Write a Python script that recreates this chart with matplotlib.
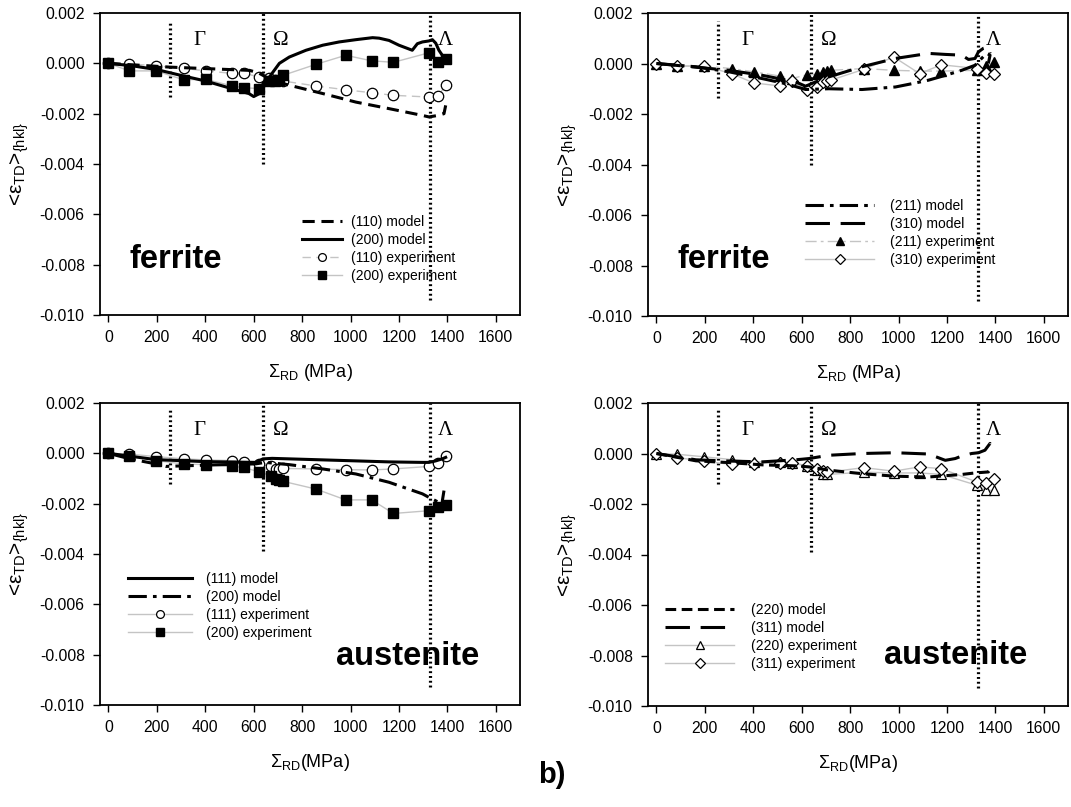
import matplotlib
matplotlib.use("Agg")
import matplotlib.pyplot as plt

plt.rcParams['font.family'] = ['Liberation Sans', 'DejaVu Sans']
plt.rcParams['mathtext.fontset'] = 'custom'
plt.rcParams['mathtext.rm'] = 'Liberation Sans'
plt.rcParams['mathtext.it'] = 'Liberation Sans:italic'
plt.rcParams['mathtext.bf'] = 'Liberation Sans:bold'
plt.rcParams['axes.unicode_minus'] = False

W, H = 1071, 807

# ---------------- data ----------------
# Ferrite (top-left)
fe110_model_x = [0, 253, 583, 620, 676, 747, 885, 1022, 1159, 1297, 1324, 1361, 1386, 1393]
fe110_model_y = [0, -0.00015, -0.00028, -0.00038, -0.00068, -0.00087, -0.0012, -0.00154, -0.0018,
                 -0.00207, -0.00213, -0.00207, -0.0020, -0.00167]
fe200_model_x = [0, 100, 200, 300, 400, 500, 580, 600, 624, 638, 665, 706, 747, 816, 885, 953, 1022,
                 1091, 1118, 1159, 1200, 1255, 1276, 1297, 1324, 1338, 1352, 1365, 1379]
fe200_model_y = [0, -0.0001, -0.00025, -0.00048, -0.0007, -0.00098, -0.0012, -0.00132, -0.0012,
                 -0.00081, -0.00054, 0.0, 0.00025, 0.00052, 0.00072, 0.00085, 0.00094, 0.00102,
                 0.0010, 0.00091, 0.00072, 0.00052, 0.00078, 0.00085, 0.00089, 0.00094, 0.0008,
                 0.00052, 0.00032]
fe_exp_x = [0, 86, 196, 310, 402, 512, 558, 620, 662, 686, 706, 720, 857, 980, 1087, 1177, 1324, 1361, 1395]
fe110_exp_y = [0, -0.00002, -0.0001, -0.0002, -0.0003, -0.0004, -0.0004, -0.00053, -0.0006, -0.00065,
               -0.00068, -0.0007, -0.0009, -0.00105, -0.00117, -0.00127, -0.00134, -0.0013, -0.00085]
fe200_exp_y = [0, -0.0003, -0.0003, -0.00065, -0.00064, -0.0009, -0.00097, -0.001, -0.00072, -0.00072,
               -0.00065, -0.00048, -0.00004, 0.00032, 0.0001, 0.00004, 0.00042, 0.00005, 0.00019]

# Ferrite (top-right)
fe211_model_x = [0, 163, 300, 438, 534, 616, 712, 849, 987, 1055, 1124, 1193, 1261, 1316, 1343, 1364, 1378, 1371]
fe211_model_y = [0, -0.00013, -0.00033, -0.0006, -0.0008, -0.00103, -0.001, -0.00103, -0.00093, -0.0008,
                 -0.00066, -0.00047, -0.00027, -0.00007, 0.0002, 0.0004, 0.00033, 0.0]
fe310_model_x = [0, 300, 438, 575, 616, 657, 712, 849, 987, 1124, 1193, 1261, 1289, 1316, 1330, 1350, 1371, 1378]
fe310_model_y = [0, -0.00027, -0.00047, -0.00073, -0.0009, -0.00073, -0.00053, -0.00013, 0.0002, 0.0004,
                 0.00036, 0.00033, 0.00016, 0.0002, 0.00046, 0.0006, 0.00066, 0.0004]
fe211_exp_y = [0, -0.0001, -0.0001, -0.0002, -0.00033, -0.0005, -0.0006, -0.00045, -0.00043, -0.00035,
               -0.0003, -0.00027, -0.0002, -0.00027, -0.0003, -0.0003, -0.00027, -0.0001, 0.00005]
fe310_exp_y = [0, -0.0001, -0.0001, -0.0004, -0.00077, -0.00089, -0.0007, -0.00106, -0.00093, -0.00073,
               -0.0007, -0.00066, -0.00023, 0.00026, -0.0004, -0.00005, -0.0002, -0.00037, -0.00042]

# Austenite (bottom-left)
au111_model_x = [0, 196, 400, 610, 638, 676, 747, 885, 1022, 1159, 1297, 1324, 1352, 1379, 1393]
au111_model_y = [0, -0.00025, -0.00033, -0.00036, -0.00022, -0.0002, -0.00022, -0.00026, -0.0003,
                 -0.00034, -0.00036, -0.00036, -0.0003, -0.00022, -0.00016]
au200_model_x = [0, 89, 196, 237, 333, 470, 607, 648, 747, 885, 1022, 1159, 1228, 1297, 1324, 1365, 1379, 1386]
au200_model_y = [0, -0.00022, -0.00042, -0.00052, -0.00049, -0.00045, -0.00042, -0.00036, -0.00045,
                 -0.00062, -0.00082, -0.00115, -0.00138, -0.00161, -0.00175, -0.00195, -0.0019, -0.00148]
au_exp_x = [0, 86, 196, 310, 402, 512, 558, 620, 672, 692, 706, 720, 857, 980, 1087, 1177, 1324, 1361, 1395]
au111_exp_y = [0, -0.00003, -0.00013, -0.00022, -0.00026, -0.00029, -0.00033, -0.00042, -0.00052, -0.00062,
               -0.00062, -0.0006, -0.00062, -0.00065, -0.00066, -0.00062, -0.00052, -0.0004, -0.00009]
au200_exp_y = [0, -0.00009, -0.00029, -0.00042, -0.00045, -0.00052, -0.00056, -0.00073, -0.00089, -0.00102,
               -0.00106, -0.00111, -0.00142, -0.00185, -0.00185, -0.00239, -0.00228, -0.00215, -0.00205]

# Austenite (bottom-right)
au220_model_x = [0, 163, 300, 438, 575, 630, 712, 849, 987, 1124, 1261, 1316, 1371, 1382]
au220_model_y = [0, -0.00029, -0.00036, -0.00045, -0.00049, -0.00053, -0.00066, -0.0008, -0.0009,
                 -0.00093, -0.00083, -0.00077, -0.00073, -0.0006]
au311_model_x = [0, 163, 300, 438, 575, 630, 712, 849, 987, 1124, 1193, 1234, 1261, 1302, 1330, 1357, 1378, 1385]
au311_model_y = [0, -0.00025, -0.0003, -0.00033, -0.00025, -0.0002, -0.00007, 0.0, 0.00003, -0.00002,
                 -0.00027, -0.0002, -0.0001, 0.0, 0.00003, 0.00013, 0.0004, 0.00008]
au_exp2_x = [0, 86, 196, 310, 402, 512, 558, 620, 662, 686, 706, 857, 980, 1087, 1177, 1324, 1361, 1395]
au220_exp_y = [0, -0.00003, -0.00013, -0.00024, -0.00033, -0.00033, -0.00036, -0.00049, -0.00064, -0.0008,
               -0.00083, -0.00074, -0.00077, -0.00077, -0.00083, -0.00126, -0.00146, -0.00146]
au311_exp_y = [0, -0.00016, -0.00031, -0.00043, -0.0004, -0.00036, -0.00036, -0.00049, -0.0006, -0.0007,
               -0.00074, -0.00056, -0.0007, -0.00053, -0.0006, -0.00113, -0.00117, -0.001]

x_ticks = [0, 200, 400, 600, 800, 1000, 1200, 1400, 1600]
y_ticks = [0.002, 0.000, -0.002, -0.004, -0.006, -0.008, -0.010]

# vertical dotted lines: (x, ymin, ymax)
top_vlines = [(255, -0.00135, 0.0017), (640, -0.004, 0.002), (1330, -0.0094, 0.002)]
bot_vlines = [(255, -0.0012, 0.0018), (640, -0.0039, 0.002), (1330, -0.0093, 0.002)]
region_labels = ['Γ', 'Ω', 'Λ']
region_x = [375, 712, 1390]

# ---------------- figure ----------------
fig = plt.figure(figsize=(W / 100, H / 100), dpi=100)


def add_ax(l, r, t, b):
    return fig.add_axes([l / W, 1 - b / H, (r - l) / W, (b - t) / H])


axTL = add_ax(100, 520, 13, 315)
axTR = add_ax(648, 1068, 13, 316)
axBL = add_ax(100, 520, 403, 705)
axBR = add_ax(648, 1068, 403, 706)

ylab = r'<ε$_{\mathrm{TD}}$>$_{\mathrm{\{hkl\}}}$'
GRAY = '#c4c4c4'
MLW = 2.2

for ax, vl, xl in [(axTL, top_vlines, r'Σ$_{\mathrm{RD}}$ (MPa)'),
                   (axTR, top_vlines, r'Σ$_{\mathrm{RD}}$ (MPa)'),
                   (axBL, bot_vlines, r'Σ$_{\mathrm{RD}}$(MPa)'),
                   (axBR, bot_vlines, r'Σ$_{\mathrm{RD}}$(MPa)')]:
    ax.set_xlim(-35, 1700)
    ax.set_ylim(-0.010, 0.002)
    ax.set_xticks(x_ticks)
    ax.set_xticklabels([str(v) for v in x_ticks])
    ax.set_yticks(y_ticks)
    ax.set_yticklabels(['%.3f' % v for v in y_ticks])
    ax.tick_params(direction='out', length=5, width=1, labelsize=11.3, pad=6)
    for s in ax.spines.values():
        s.set_linewidth(1.3)
    ax.set_xlabel(xl, fontsize=13, labelpad=12)
    ax.set_ylabel(ylab, fontsize=15, labelpad=6)
    for (xv, y0, y1) in vl:
        ax.plot([xv, xv], [y0, y1], color='black', lw=2.3, ls=(0, (0.6, 0.9)), zorder=1)
    for lab, xv in zip(region_labels, region_x):
        ax.text(xv, 0.00092, lab, family='Liberation Serif', fontsize=15, ha='center', va='center')

# ---- top-left
axTL.plot(fe_exp_x, fe110_exp_y, color=GRAY, lw=1, ls=(0, (6, 4)), marker='o', ms=7.5,
          mfc='white', mec='black', mew=0.9, label='(110) experiment', zorder=3)
axTL.plot(fe_exp_x, fe200_exp_y, color=GRAY, lw=1, marker='s', ms=7.5,
          mfc='black', mec='black', label='(200) experiment', zorder=3)
axTL.plot(fe110_model_x, fe110_model_y, color='black', lw=MLW, ls=(0, (4, 2.2)), label='(110) model', zorder=4)
axTL.plot(fe200_model_x, fe200_model_y, color='black', lw=MLW, label='(200) model', zorder=4)

# ---- top-right
axTR.plot(fe_exp_x, fe211_exp_y, color=GRAY, lw=1, ls=(0, (8, 3, 2, 3)), marker='^', ms=7.5,
          mfc='black', mec='black', label='(211) experiment', zorder=3)
axTR.plot(fe_exp_x, fe310_exp_y, color=GRAY, lw=1, marker='D', ms=6.5,
          mfc='white', mec='black', mew=0.9, label='(310) experiment', zorder=3)
axTR.plot(fe211_model_x, fe211_model_y, color='black', lw=MLW, ls=(0, (6, 2, 1.2, 2)), label='(211) model', zorder=4)
axTR.plot(fe310_model_x, fe310_model_y, color='black', lw=MLW, ls=(0, (8, 3.5)), label='(310) model', zorder=4)

# ---- bottom-left
axBL.plot(au_exp_x, au111_exp_y, color=GRAY, lw=1, marker='o', ms=7.5,
          mfc='white', mec='black', mew=0.9, label='(111) experiment', zorder=3)
axBL.plot(au_exp_x, au200_exp_y, color=GRAY, lw=1, marker='s', ms=7.5,
          mfc='black', mec='black', label='(200) experiment', zorder=3)
axBL.plot(au111_model_x, au111_model_y, color='black', lw=MLW, label='(111) model', zorder=4)
axBL.plot(au200_model_x, au200_model_y, color='black', lw=MLW, ls=(0, (6, 2, 1.2, 2)), label='(200) model', zorder=4)

# ---- bottom-right
axBR.plot(au_exp2_x, au220_exp_y, color=GRAY, lw=1, marker='^', ms=7.5,
          mfc='white', mec='black', mew=0.9, label='(220) experiment', zorder=3)
axBR.plot(au_exp2_x, au311_exp_y, color=GRAY, lw=1, marker='D', ms=6.5,
          mfc='white', mec='black', mew=0.9, label='(311) experiment', zorder=3)
axBR.plot(au220_model_x, au220_model_y, color='black', lw=MLW, ls=(0, (3.5, 1.8)), label='(220) model', zorder=4)
axBR.plot(au311_model_x, au311_model_y, color='black', lw=MLW, ls=(0, (8, 3.5)), label='(311) model', zorder=4)


def legend(ax, order, x, ytop, hlen, htp):
    hs, ls = ax.get_legend_handles_labels()
    d = dict(zip(ls, hs))
    lg = ax.legend([d[k] for k in order], order, loc='upper left',
                   bbox_to_anchor=(x / W, 1 - ytop / H), bbox_transform=fig.transFigure,
                   frameon=False, fontsize=10, handlelength=hlen, handletextpad=htp,
                   labelspacing=0.28, borderpad=0, borderaxespad=0, markerscale=0.75)
    return lg


legend(axTL, ['(110) model', '(200) model', '(110) experiment', '(200) experiment'], 302, 215, 2.9, 0.6)
legend(axTR, ['(211) model', '(310) model', '(211) experiment', '(310) experiment'], 805, 199, 5.0, 1.15)
legend(axBL, ['(111) model', '(200) model', '(111) experiment', '(200) experiment'], 128, 572, 4.6, 1.0)
legend(axBR, ['(220) model', '(311) model', '(220) experiment', '(311) experiment'], 665, 603, 5.0, 1.2)

for txt, xc, yb in [('ferrite', 176, 268), ('ferrite', 724, 268),
                    ('austenite', 408, 665), ('austenite', 956, 664)]:
    fig.text(xc / W, 1 - yb / H, txt, fontsize=23.5, fontweight='bold', ha='center', va='baseline')

fig.text(552 / W, 1 - 775 / H, 'b)', fontsize=21, fontweight='bold', ha='center', va='center')

fig.savefig('out.png', dpi=100)
